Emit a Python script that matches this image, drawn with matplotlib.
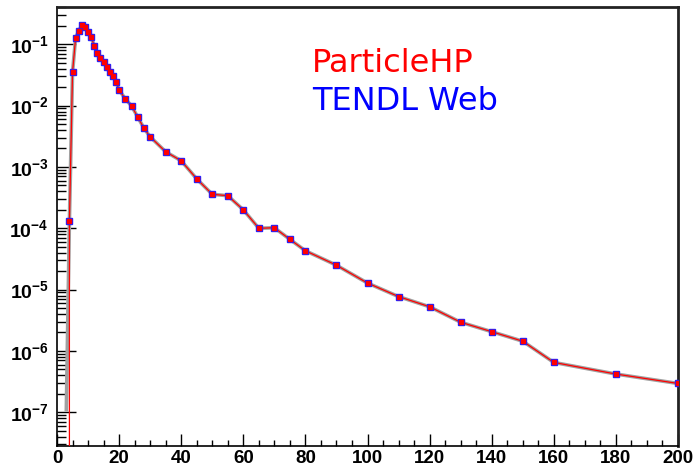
import math
import matplotlib
matplotlib.use('Agg')
import matplotlib.pyplot as plt
from matplotlib.ticker import FuncFormatter, FixedLocator, MultipleLocator

plt.rcParams['mathtext.fontset'] = 'custom'
plt.rcParams['mathtext.bf'] = 'Liberation Sans:bold'
plt.rcParams['mathtext.rm'] = 'Liberation Sans'

# energy grid (MeV) and cross sections
energy = [4, 5, 6, 7, 8, 9, 10, 11, 12, 13, 14, 15, 16, 17, 18, 19, 20,
          22, 24, 26, 28, 30, 35, 40, 45, 50, 55, 60, 65, 70, 75, 80, 90,
          100, 110, 120, 130, 140, 150, 160, 180, 200]
tendl_xs = [1.33e-4, 0.035, 0.128, 0.165, 0.204, 0.194, 0.158, 0.13, 0.095,
            0.073, 0.059, 0.051, 0.042, 0.035, 0.030, 0.0246, 0.018,
            0.0129, 0.0099, 0.0065, 0.0043, 0.0031, 0.00177, 0.00126,
            6.4e-4, 3.58e-4, 3.4e-4, 2.0e-4, 1.0e-4, 1.02e-4, 6.6e-5,
            4.3e-5, 2.5e-5, 1.28e-5, 7.7e-6, 5.25e-6, 2.94e-6, 2.06e-6,
            1.44e-6, 6.5e-7, 4.2e-7, 2.95e-7]
# low-energy threshold points
tendl_low_e = [3]
tendl_low_xs = [1.1e-7]
hp_low_e = [0, 1, 2, 3]
hp_low_xs = [0, 0, 0, 0]

decades = [1e-7, 1e-6, 1e-5, 1e-4, 1e-3, 1e-2, 1e-1]

hp_e = hp_low_e + energy
hp_xs = hp_low_xs + tendl_xs
web_e = tendl_low_e + energy
web_xs = tendl_low_xs + tendl_xs

fig = plt.figure(figsize=(6.94, 4.72), dpi=100)
ax = fig.add_axes([57/694, 1-446/472, (678-57)/694, (446-7)/472])

ax.plot(web_e, web_xs, color='#a0a0a0', lw=2.6, zorder=2)
ax.plot(hp_e, hp_xs, color='red', lw=0.9, zorder=3)
ax.plot(energy, tendl_xs, ls='none', marker='s', ms=3.8, color='#2020ff',
        mec='#2020ff', zorder=4)
ax.plot(energy, tendl_xs, ls='none', marker='s', ms=2.2, color='red',
        mec='red', zorder=5)

ax.set_yscale('log', nonpositive='clip')
ax.set_xlim(0, 200)
ax.set_ylim(10**-7.55, 10**-0.392)

ax.xaxis.set_major_locator(MultipleLocator(20))
ax.xaxis.set_minor_locator(MultipleLocator(5))
minors = [m * d for d in [1e-8] + decades for m in range(2, 10)]
ax.yaxis.set_major_locator(FixedLocator(decades))
ax.yaxis.set_minor_locator(FixedLocator(minors))
ax.yaxis.set_minor_formatter(FuncFormatter(lambda v, p: ''))
ax.yaxis.set_major_formatter(FuncFormatter(
    lambda v, p: r'$\mathbf{10^{%d}}$' % round(math.log10(v))))

ax.tick_params(axis='x', which='major', direction='in', length=9, width=1,
               top=False, labelsize=13.5, pad=3)
ax.tick_params(axis='x', which='minor', direction='in', length=4.2, width=1,
               top=False)
ax.tick_params(axis='y', which='major', direction='in', length=13.7, width=1,
               right=False, labelsize=14, pad=6)
ax.tick_params(axis='y', which='minor', direction='in', length=6.5, width=1,
               right=False)
for lbl in ax.get_xticklabels():
    lbl.set_fontfamily('Liberation Sans')
    lbl.set_fontweight('bold')

for side in ['left', 'bottom']:
    ax.spines[side].set_linewidth(1.2)
for side in ['top', 'right']:
    ax.spines[side].set_linewidth(2.0)
    ax.spines[side].set_color('#222222')

fig.text(312/694, 1-72/472, 'ParticleHP', color='red', fontsize=23,
         family='DejaVu Sans')
fig.text(312/694, 1-110/472, 'TENDL Web', color='blue', fontsize=23,
         family='DejaVu Sans')

fig.savefig('out.png', dpi=100, facecolor='white')
